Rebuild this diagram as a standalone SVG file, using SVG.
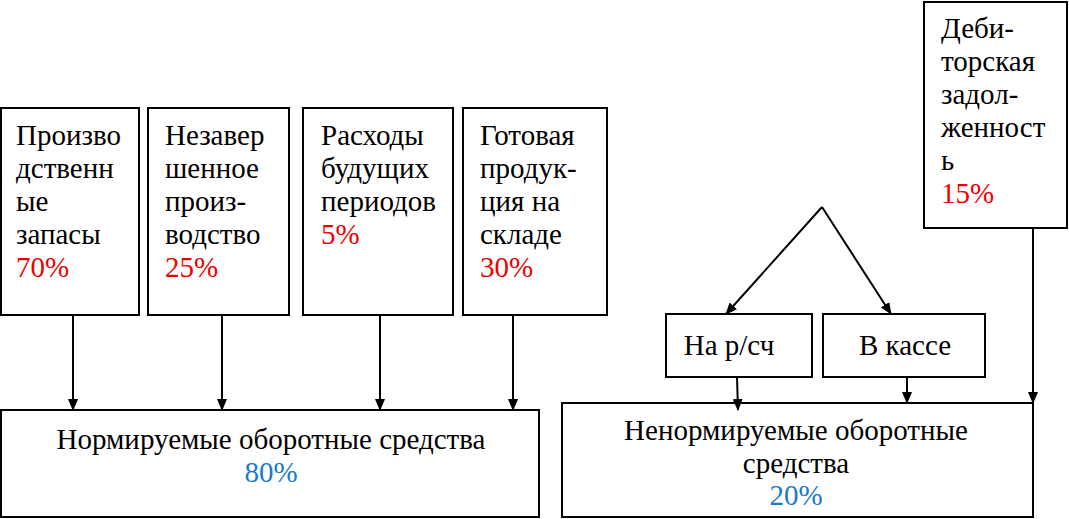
<svg xmlns="http://www.w3.org/2000/svg" width="1069" height="519" viewBox="0 0 1069 519">
<style>
.box{fill:#fff;stroke:#000;stroke-width:2}
.t{font-family:'Liberation Serif','Times New Roman',serif;font-size:29px;fill:#000}
.r{fill:#ee0000}
.b{fill:#1a7ac4}
.c{text-anchor:middle}
.ln{stroke:#000;stroke-width:2;fill:none}
</style>
<defs>
<marker id="ah" markerWidth="12" markerHeight="10" refX="11" refY="5" orient="auto" markerUnits="userSpaceOnUse">
<path d="M0,0 L12,5 L0,10 Z" fill="#000"/>
</marker>
</defs>
<rect width="1069" height="519" fill="#fff"/>
<g id="n1">
<rect class="box" x="1" y="108" width="138" height="207"/>
<text class="t" x="16" y="145">Произво</text>
<text class="t" x="16" y="178">дственн</text>
<text class="t" x="16" y="211">ые</text>
<text class="t" x="16" y="244">запасы</text>
<text class="t r" x="16" y="277">70%</text>
</g>
<g id="n2">
<rect class="box" x="148" y="108" width="141" height="207"/>
<text class="t" x="165" y="145">Незавер</text>
<text class="t" x="165" y="178">шенное</text>
<text class="t" x="165" y="211">произ-</text>
<text class="t" x="165" y="244">водство</text>
<text class="t r" x="165" y="277">25%</text>
</g>
<g id="n3">
<rect class="box" x="303" y="108" width="150" height="207"/>
<text class="t" x="321" y="145">Расходы</text>
<text class="t" x="321" y="178">будущих</text>
<text class="t" x="321" y="211">периодов</text>
<text class="t r" x="321" y="244">5%</text>
</g>
<g id="n4">
<rect class="box" x="463" y="108" width="144" height="207"/>
<text class="t" x="480" y="145">Готовая</text>
<text class="t" x="480" y="178">продук-</text>
<text class="t" x="480" y="211">ция на</text>
<text class="t" x="480" y="244">складе</text>
<text class="t r" x="480" y="277">30%</text>
</g>
<g id="n5">
<rect class="box" x="924" y="2" width="143" height="226"/>
<text class="t" x="941" y="38">Деби-</text>
<text class="t" x="941" y="71">торская</text>
<text class="t" x="941" y="104">задол-</text>
<text class="t" x="941" y="137">женност</text>
<text class="t" x="941" y="170">ь</text>
<text class="t r" x="941" y="203">15%</text>
</g>
<g id="n6">
<rect class="box" x="666" y="314" width="146" height="63"/>
<text class="t c" x="729" y="355">На р/сч</text>
</g>
<g id="n7">
<rect class="box" x="823" y="314" width="162" height="63"/>
<text class="t c" x="905" y="355">В кассе</text>
</g>
<g id="n8">
<rect class="box" x="1" y="410" width="538" height="107"/>
<text class="t c" x="271" y="449">Нормируемые оборотные средства</text>
<text class="t c b" x="271" y="482">80%</text>
</g>
<g id="n9">
<rect class="box" x="562" y="403" width="471" height="114"/>
<text class="t c" x="796" y="440">Ненормируемые оборотные</text>
<text class="t c" x="796" y="473">средства</text>
<text class="t c b" x="796" y="505">20%</text>
</g>
<g id="connectors">
<line class="ln" x1="73" y1="315" x2="73" y2="410" marker-end="url(#ah)"/>
<line class="ln" x1="222" y1="315" x2="222" y2="410" marker-end="url(#ah)"/>
<line class="ln" x1="380" y1="315" x2="380" y2="410" marker-end="url(#ah)"/>
<line class="ln" x1="513" y1="315" x2="513" y2="410" marker-end="url(#ah)"/>
<line class="ln" x1="822" y1="207" x2="726" y2="314" marker-end="url(#ah)"/>
<line class="ln" x1="822" y1="207" x2="891" y2="314" marker-end="url(#ah)"/>
<line class="ln" x1="737" y1="377" x2="738" y2="410" marker-end="url(#ah)"/>
<line class="ln" x1="907" y1="377" x2="907" y2="403" marker-end="url(#ah)"/>
<line class="ln" x1="1033" y1="228" x2="1033" y2="403" marker-end="url(#ah)"/>
</g>
</svg>
